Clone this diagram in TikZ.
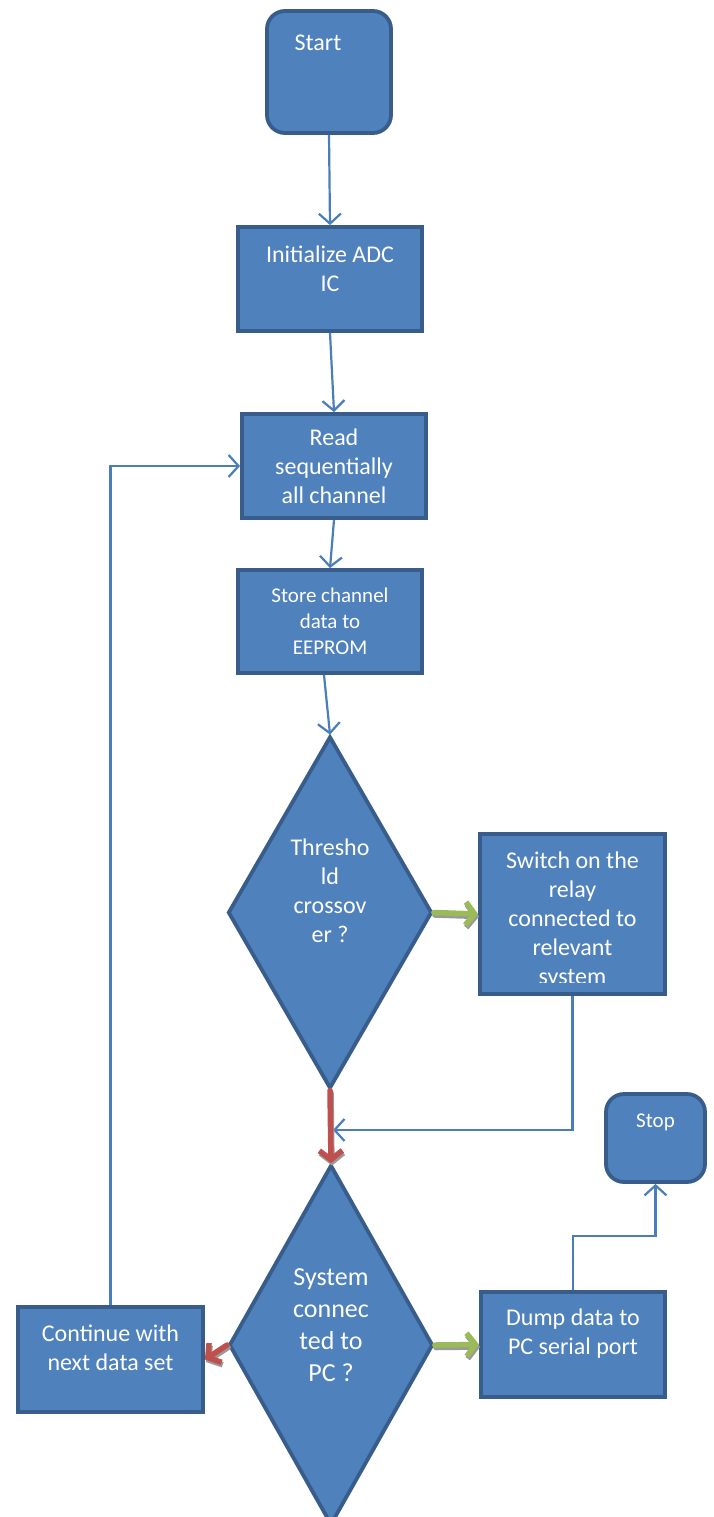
\documentclass[tikz,border=0pt]{standalone}
\usepackage{fontspec}
\setmainfont{Carlito}
\usetikzlibrary{shapes.geometric,arrows.meta}
\definecolor{fillc}{HTML}{4F81BD}
\definecolor{bordc}{HTML}{385D8A}
\definecolor{linec}{HTML}{4A7EBB}
\definecolor{redc}{HTML}{C0504D}
\definecolor{greenc}{HTML}{9BBB59}
\definecolor{shadc}{HTML}{9A9A9A}
\tikzset{
  box/.style={draw=bordc, fill=fillc, line width=3.8pt, text=white, align=center, inner sep=0pt,
    font=\fontsize{24}{29}\selectfont},
  rbox/.style={box, rounded corners=18pt},
  dec/.style={box, diamond},
  lbl/.style={text=white, align=center, inner sep=0pt},
  big/.style={font=\fontsize{24}{29}\selectfont},
  mid/.style={font=\fontsize{21}{26}\selectfont},
  flow/.style={draw=linec, line width=2.2pt, -{Straight Barb[length=10pt,width=22pt]}},
  thick arrow/.style={line width=5.5pt, line cap=round, -{Straight Barb[length=9pt,width=23pt]}},
  redflow/.style={thick arrow, draw=redc},
  greenflow/.style={thick arrow, draw=greenc},
  shadowflow/.style={thick arrow, draw=shadc, transform canvas={shift={(1pt,-2.5pt)}}},
}
\begin{document}
\begin{tikzpicture}[x=1pt,y=-1pt]
\useasboundingbox (0,0) rectangle (713,1517);

\node[rbox, minimum width=124pt, minimum height=122pt,
  label={[lbl,big,xshift=-11pt,yshift=29pt]center:Start}] (start) at (329,72) {};
\node[box, minimum width=184pt, minimum height=104pt,
  label={[lbl,big,yshift=10pt]center:{Initialize ADC\\IC}}] (init) at (330,279) {};
\node[box, minimum width=184pt, minimum height=104pt] (read) at (334,466) {Read\\sequentially\\all channel};
\node[box, mid, minimum width=184pt, minimum height=103pt] (store) at (330,621.5) {Store channel\\data to\\EEPROM};
\node[dec, minimum width=204pt, minimum height=352pt,
  label={[lbl,big,yshift=22pt]center:{Thresho\\ld\\crossov\\er ?}}] (d1) at (330,912.5) {};
\node[box, minimum width=185pt, minimum height=160pt,
  path picture={
    \clip (path picture bounding box.north west) rectangle ([yshift=12pt]path picture bounding box.south east);
    \node[lbl,big] at ([yshift=-6pt]path picture bounding box.center)
    {Switch on the\\relay\\connected to\\relevant\\system};}] (sw) at (572.5,914) {};
\node[rbox, minimum width=99pt, minimum height=88pt,
  label={[lbl,mid,yshift=16pt]center:Stop}] (stop) at (655.5,1138) {};
\node[dec, minimum width=204pt, minimum height=360pt,
  label={[lbl,font=\fontsize{26}{32}\selectfont,yshift=20pt]center:{System\\connec\\ted to\\PC ?}}] (d2) at (331,1345) {};
\node[box, minimum width=185pt, minimum height=105pt,
  label={[lbl,big,yshift=12pt]center:{Continue with\\next data set}}] (cont) at (110.5,1359.5) {};
\node[box, minimum width=184pt, minimum height=105pt,
  label={[lbl,big,yshift=11pt]center:{Dump data to\\PC serial port}}] (dump) at (573,1344.5) {};

\coordinate (j) at (333,1130);

\draw[flow] (start.south) -- (init.north);
\draw[flow] (init.south) -- (read.north);
\draw[flow] (read.south) -- (store.north);
\draw[flow] ([xshift=-6pt]store.south) -- (d1.north);
\draw[flow] (cont.north) |- (read.west);
\draw[flow] (sw.south) |- (j);
\draw[flow] (dump.north) -- ++(0,-54) -| (stop.south);

\draw[shadowflow] (d1.east) -- (sw.west);
\draw[greenflow] (d1.east) -- (sw.west);
\draw[shadowflow] (d2.east) -- (dump.west);
\draw[greenflow] (d2.east) -- (dump.west);
\draw[shadowflow] (d1.south) -- (d2.north);
\draw[redflow] (d1.south) -- (d2.north);
\draw[shadowflow] (d2.west) -- (cont.east);
\draw[redflow] (d2.west) -- (cont.east);
\end{tikzpicture}
\end{document}
